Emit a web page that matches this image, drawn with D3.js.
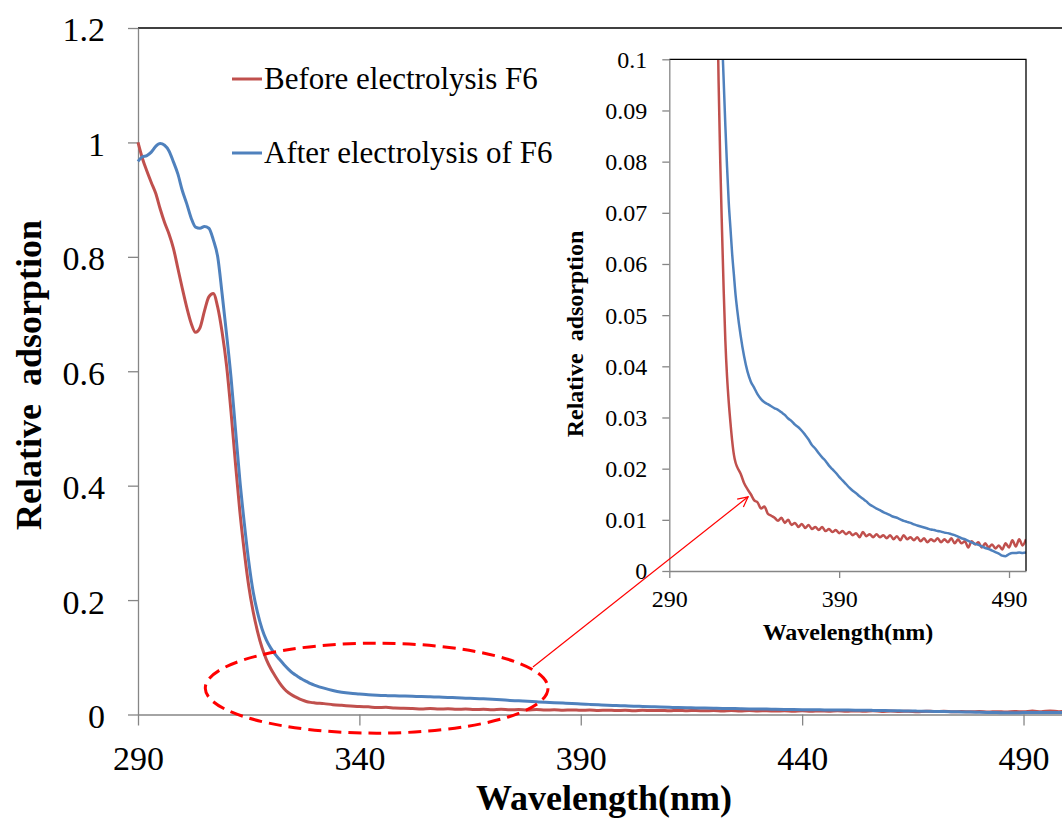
<!DOCTYPE html>
<html>
<head>
<meta charset="utf-8">
<script src="https://cdn.jsdelivr.net/npm/d3@7"></script>
<style>
  body { margin: 0; background: #fff; }
  svg { display: block; font-family: "Liberation Serif", "Times New Roman", serif; }
  .axis path, .axis line { stroke: #868686; stroke-width: 1.3; }
  .axis text { fill: #000; }
</style>
</head>
<body>
<div id="chart"></div>
<script>
// wavelength grid (nm): 1 nm steps up to 330, 2 nm steps after
const wavelengths = [
  290, 291, 292, 293, 294, 295, 296, 297, 298, 299,
  300, 301, 302, 303, 304, 305, 306, 307, 308, 309,
  310, 311, 312, 313, 314, 315, 316, 317, 318, 319,
  320, 321, 322, 323, 324, 325, 326, 327, 328, 329,
  330, 332, 334, 336, 338, 340, 342, 344, 346, 348,
  350, 352, 354, 356, 358, 360, 362, 364, 366, 368,
  370, 372, 374, 376, 378, 380, 382, 384, 386, 388,
  390, 392, 394, 396, 398, 400, 402, 404, 406, 408,
  410, 412, 414, 416, 418, 420, 422, 424, 426, 428,
  430, 432, 434, 436, 438, 440, 442, 444, 446, 448,
  450, 452, 454, 456, 458, 460, 462, 464, 466, 468,
  470, 472, 474, 476, 478, 480, 482, 484, 486, 488,
  490, 492, 494, 496, 498, 500
];

const beforeValues = [
  1.000, 0.972, 0.950, 0.930, 0.911, 0.884, 0.860, 0.840, 0.815, 0.780,
  0.745, 0.712, 0.684, 0.668, 0.676, 0.705, 0.730, 0.736, 0.712, 0.668,
  0.610, 0.530, 0.440, 0.355, 0.285, 0.225, 0.180, 0.145, 0.117, 0.096,
  0.080, 0.067, 0.055, 0.045, 0.038, 0.033, 0.029, 0.0255, 0.0228, 0.0212,
  0.0203, 0.0190, 0.0172, 0.0160, 0.0150, 0.0138, 0.0134, 0.0122, 0.0126, 0.0112,
  0.0108, 0.0104, 0.0098, 0.0104, 0.0094, 0.0100, 0.0090, 0.0094, 0.0086, 0.0092,
  0.0084, 0.0090, 0.0082, 0.0086, 0.0080, 0.0086, 0.0078, 0.0082, 0.0076, 0.0080,
  0.0074, 0.0078, 0.0072, 0.0076, 0.0070, 0.0074, 0.0066, 0.0076, 0.0068, 0.0072,
  0.0066, 0.0072, 0.0066, 0.0070, 0.0064, 0.0070, 0.0062, 0.0068, 0.0060, 0.0070,
  0.0062, 0.0066, 0.0060, 0.0066, 0.0058, 0.0064, 0.0056, 0.0062, 0.0058, 0.0064,
  0.0056, 0.0062, 0.0056, 0.0064, 0.0054, 0.0062, 0.0054, 0.0058, 0.0046, 0.0058,
  0.0052, 0.0056, 0.0046, 0.0054, 0.0046, 0.0052, 0.0044, 0.0050, 0.0042, 0.0054,
  0.0046, 0.0060, 0.0048, 0.0062, 0.0050, 0.0062
];

const afterValues = [
  0.967, 0.975, 0.977, 0.983, 0.993, 0.998, 0.995, 0.985, 0.966, 0.945,
  0.916, 0.893, 0.868, 0.852, 0.850, 0.853, 0.850, 0.830, 0.800, 0.735,
  0.665, 0.590, 0.500, 0.410, 0.335, 0.268, 0.215, 0.178, 0.150, 0.130,
  0.116, 0.105, 0.096, 0.087, 0.079, 0.072, 0.067, 0.062, 0.058, 0.054,
  0.051, 0.046, 0.042, 0.039, 0.037, 0.0358, 0.0345, 0.0336, 0.0330, 0.0326,
  0.0322, 0.0318, 0.0315, 0.0310, 0.0305, 0.0298, 0.0293, 0.0286, 0.0281, 0.0274,
  0.0266, 0.0257, 0.0246, 0.0239, 0.0230, 0.0222, 0.0215, 0.0206, 0.0199, 0.0192,
  0.0184, 0.0177, 0.0170, 0.0163, 0.0157, 0.0152, 0.0146, 0.0141, 0.0136, 0.0130,
  0.0126, 0.0122, 0.0119, 0.0115, 0.0112, 0.0109, 0.0106, 0.0104, 0.0101, 0.0098,
  0.0096, 0.0094, 0.0091, 0.0089, 0.0087, 0.0085, 0.0083, 0.0081, 0.0080, 0.0078,
  0.0077, 0.0075, 0.0074, 0.0072, 0.0070, 0.0067, 0.0064, 0.0062, 0.0059, 0.0056,
  0.0053, 0.0051, 0.0048, 0.0045, 0.0043, 0.0040, 0.0037, 0.0034, 0.0030, 0.0029,
  0.0033, 0.0035, 0.0035, 0.0036, 0.0035, 0.0036
];

const seriesNames = ["Before electrolysis F6", "After electrolysis of F6"];
const seriesColors = ["#C0504D", "#4F81BD"];

const mainXTicks = [290, 340, 390, 440, 490];
const mainYTicks = [0, 0.2, 0.4, 0.6, 0.8, 1.0, 1.2];
const insetXTicks = [290, 390, 490];
const insetYTicks = [0, 0.01, 0.02, 0.03, 0.04, 0.05, 0.06, 0.07, 0.08, 0.09, 0.1];

const width = 1062, height = 822;
const serif = '"Liberation Serif", "Times New Roman", serif';

const svg = d3.select("#chart").append("svg")
    .attr("width", width)
    .attr("height", height);

const series = [beforeValues, afterValues].map((vals, i) => ({
    name: seriesNames[i],
    color: seriesColors[i],
    points: wavelengths.map((w, j) => ({w: w, v: vals[j]}))
}));

// ---------- main chart ----------
let x = d3.scaleLinear().domain([290, 500]).range([138, 1067.8]);
let y = d3.scaleLinear().domain([0, 1.2]).range([714.5, 28]);

// top border
svg.append("line")
    .attr("x1", x(290)).attr("x2", x(500))
    .attr("y1", y(1.2)).attr("y2", y(1.2))
    .attr("stroke", "#000").attr("stroke-width", 1.3);

svg.append("g")
    .attr("class", "axis")
    .attr("transform", `translate(0,${y(0)})`)
    .call(d3.axisBottom(x).tickValues(mainXTicks).tickSize(11).tickSizeOuter(0).tickPadding(20))
    .attr("font-family", serif)
    .call(g => g.selectAll("text").attr("font-size", 34).attr("dy", "0.71em"));

svg.append("g")
    .attr("class", "axis")
    .attr("transform", `translate(${x(290)},0)`)
    .call(d3.axisLeft(y).tickValues(mainYTicks).tickSize(10).tickSizeOuter(0).tickPadding(23)
        .tickFormat(d => String(Math.round(d * 10) / 10)))
    .attr("font-family", serif)
    .call(g => g.selectAll("text").attr("font-size", 34).attr("dy", "0.38em"));

let line = d3.line()
    .x(d => x(d.w))
    .y(d => y(d.v))
    .curve(d3.curveMonotoneX);

svg.append("g").selectAll("path")
    .data(series)
    .enter().append("path")
    .attr("d", d => line(d.points))
    .attr("fill", "none")
    .attr("stroke", d => d.color)
    .attr("stroke-width", 3);

svg.append("text")
    .attr("x", 604).attr("y", 810)
    .attr("text-anchor", "middle")
    .attr("font-size", 36).attr("font-weight", "bold")
    .text("Wavelength(nm)");

svg.append("text")
    .attr("transform", "translate(41,375) rotate(-90)")
    .attr("text-anchor", "middle")
    .attr("font-size", 36).attr("font-weight", "bold")
    .attr("xml:space", "preserve")
    .text("Relative  adsorption");

// legend
let legend = svg.append("g").selectAll("g")
    .data(series)
    .enter().append("g")
    .attr("transform", (d, i) => `translate(232,${79 + i * 74})`);

legend.append("line")
    .attr("x1", 0).attr("x2", 30)
    .attr("stroke", d => d.color)
    .attr("stroke-width", 3);

legend.append("text")
    .attr("x", 32).attr("y", 10)
    .attr("font-size", 31)
    .text(d => d.name);

// ---------- inset ----------
let ix = d3.scaleLinear().domain([290, 500]).range([669.3, 1026]);
let iy = d3.scaleLinear().domain([0, 0.1]).range([571, 59.3]);

svg.append("defs").append("clipPath")
    .attr("id", "inset-clip")
    .append("rect")
    .attr("x", ix(290)).attr("y", iy(0.1))
    .attr("width", ix(500) - ix(290))
    .attr("height", iy(0) - iy(0.1));

svg.append("rect")
    .attr("x", ix(290)).attr("y", iy(0.1))
    .attr("width", ix(500) - ix(290))
    .attr("height", iy(0) - iy(0.1))
    .attr("fill", "#fff");

let insetLine = d3.line()
    .x(d => ix(d.w))
    .y(d => iy(d.v))
    .curve(d3.curveMonotoneX);

svg.append("g")
    .attr("clip-path", "url(#inset-clip)")
    .selectAll("path")
    .data(series)
    .enter().append("path")
    .attr("d", d => insetLine(d.points))
    .attr("fill", "none")
    .attr("stroke", d => d.color)
    .attr("stroke-width", 2.5);

// top + right border
svg.append("path")
    .attr("d", `M${ix(290)},${iy(0.1)}H${ix(500)}V${iy(0)}`)
    .attr("fill", "none")
    .attr("stroke", "#000").attr("stroke-width", 1.3);

svg.append("g")
    .attr("class", "axis")
    .attr("transform", `translate(0,${iy(0)})`)
    .call(d3.axisBottom(ix).tickValues(insetXTicks).tickSize(7).tickSizeOuter(0).tickPadding(12))
    .attr("font-family", serif)
    .call(g => g.selectAll("text").attr("font-size", 24).attr("dy", "0.71em"));

svg.append("g")
    .attr("class", "axis")
    .attr("transform", `translate(${ix(290)},0)`)
    .call(d3.axisLeft(iy).tickValues(insetYTicks).tickSize(7).tickSizeOuter(0).tickPadding(15)
        .tickFormat(d => String(+d.toFixed(2))))
    .attr("font-family", serif)
    .call(g => g.selectAll("text").attr("font-size", 24).attr("dy", "0.33em"));

svg.append("text")
    .attr("x", 848).attr("y", 640)
    .attr("text-anchor", "middle")
    .attr("font-size", 24).attr("font-weight", "bold")
    .text("Wavelength(nm)");

svg.append("text")
    .attr("transform", "translate(583,334) rotate(-90)")
    .attr("text-anchor", "middle")
    .attr("font-size", 24).attr("font-weight", "bold")
    .attr("xml:space", "preserve")
    .text("Relative  adsorption");

// ---------- zoom annotation ----------
svg.append("ellipse")
    .attr("cx", x(343.9)).attr("cy", y(0.046))
    .attr("rx", x(343.9 + 38.7) - x(343.9))
    .attr("ry", y(0) - y(0.0786))
    .attr("fill", "none")
    .attr("stroke", "#FF0000")
    .attr("stroke-width", 3)
    .attr("stroke-dasharray", "13,7");

svg.select("defs").append("marker")
    .attr("id", "arrow")
    .attr("viewBox", "0 0 12 12")
    .attr("refX", 11).attr("refY", 6)
    .attr("markerWidth", 12).attr("markerHeight", 12)
    .attr("markerUnits", "userSpaceOnUse")
    .attr("orient", "auto")
    .append("path")
    .attr("d", "M1,1L11,6L1,11")
    .attr("fill", "none")
    .attr("stroke", "#FF0000")
    .attr("stroke-width", 1.2);

svg.append("line")
    .attr("x1", x(379.2)).attr("y1", y(0.083))
    .attr("x2", ix(336.4)).attr("y2", iy(0.0145))
    .attr("stroke", "#FF0000")
    .attr("stroke-width", 1.2)
    .attr("marker-end", "url(#arrow)");
</script>
</body>
</html>
